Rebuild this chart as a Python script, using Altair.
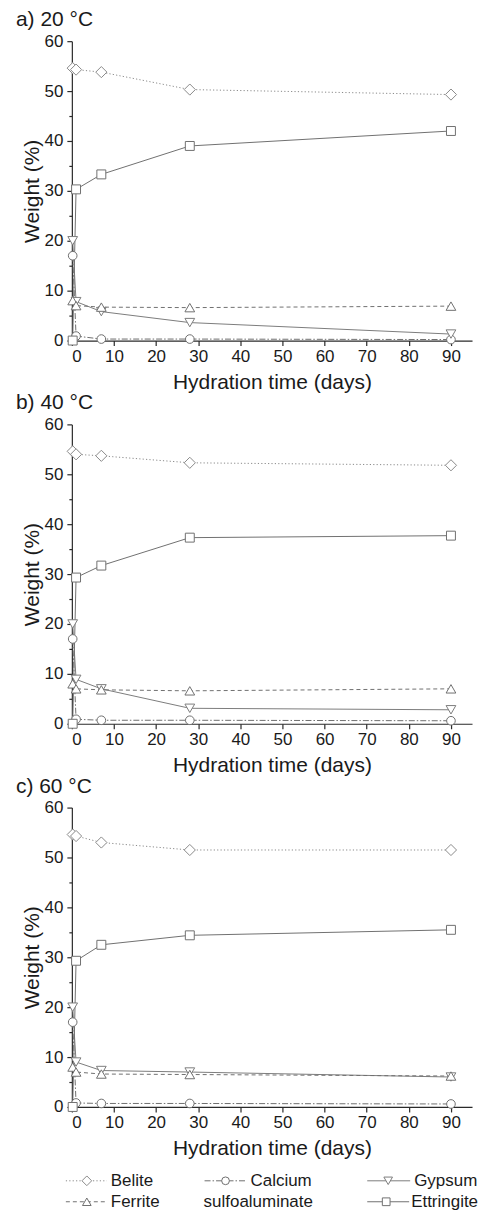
import altair as alt
import pandas as pd

FONT = "Liberation Sans"

# Hydration ages (days); the first age is the fresh paste just after mixing
days = [0.2, 1, 7, 28, 90]

phases = ["Belite", "Calcium sulfoaluminate", "Gypsum", "Ferrite", "Ettringite"]

# Phase content (wt.%) at 20 °C
belite_20 = [54.6, 54.3, 53.8, 50.3, 49.3]
csa_20 = [17.0, 0.9, 0.3, 0.3, 0.2]
gypsum_20 = [20.0, 7.8, 5.8, 3.6, 1.3]
ferrite_20 = [8.0, 7.0, 6.7, 6.6, 6.9]
ettringite_20 = [0.0, 30.3, 33.3, 39.0, 42.0]

# Phase content (wt.%) at 40 °C
belite_40 = [54.6, 54.0, 53.7, 52.3, 51.8]
csa_40 = [17.0, 0.9, 0.7, 0.7, 0.6]
gypsum_40 = [20.0, 8.9, 7.0, 3.1, 2.8]
ferrite_40 = [8.0, 7.0, 6.8, 6.6, 7.0]
ettringite_40 = [0.0, 29.3, 31.7, 37.3, 37.7]

# Phase content (wt.%) at 60 °C
belite_60 = [54.6, 54.3, 53.0, 51.5, 51.5]
csa_60 = [17.0, 0.8, 0.7, 0.7, 0.6]
gypsum_60 = [20.0, 9.0, 7.3, 7.0, 6.0]
ferrite_60 = [8.0, 7.0, 6.6, 6.5, 6.2]
ettringite_60 = [0.0, 29.3, 32.5, 34.4, 35.5]

panel_labels = ["a) 20 °C", "b) 40 °C", "c) 60 °C"]
panel_series = [
    [belite_20, csa_20, gypsum_20, ferrite_20, ettringite_20],
    [belite_40, csa_40, gypsum_40, ferrite_40, ettringite_40],
    [belite_60, csa_60, gypsum_60, ferrite_60, ettringite_60],
]

# Line / marker styling per phase
STYLE = {
    "Belite": dict(shape="diamond", dash=[1.2, 2.2], color="#8a8a8a", size=125, lsize=95),
    "Calcium sulfoaluminate": dict(shape="circle", dash=[6, 2, 1.5, 2], color="#6e6e6e", size=75, lsize=60),
    "Gypsum": dict(shape="triangle-down", dash=None, color="#7c7c7c", size=95, lsize=75),
    "Ferrite": dict(shape="triangle-up", dash=[4, 3], color="#707070", size=95, lsize=75),
    "Ettringite": dict(shape="square", dash=None, color="#707070", size=80, lsize=60),
}

W = 401
H = 300
TITLE_SIZE = 21
LABEL_SIZE = 17


def line_kw(phase):
    s = STYLE[phase]
    kw = dict(color=s["color"], strokeWidth=1)
    if s["dash"]:
        kw["strokeDash"] = s["dash"]
    return kw


def point_kw(phase, size):
    s = STYLE[phase]
    return dict(shape=s["shape"], size=size, filled=True, fill="white",
                stroke=s["color"], strokeWidth=1, opacity=1)


def panel(label, series):
    rows = []
    for phase, vals in zip(phases, series):
        for d, v in zip(days, vals):
            rows.append({"phase": phase, "day": d, "weight": v})
    df = pd.DataFrame(rows)

    x = alt.X(
        "day:Q",
        scale=alt.Scale(domain=[0, 95], nice=False),
        axis=alt.Axis(values=list(range(0, 91, 10)), title="Hydration time (days)",
                      tickSize=5, labelPadding=3, titlePadding=7,
                      titleFontSize=TITLE_SIZE, labelFontSize=LABEL_SIZE),
    )
    y = alt.Y(
        "weight:Q",
        scale=alt.Scale(domain=[0, 60], nice=False),
        axis=alt.Axis(
            values=list(range(0, 61, 5)),
            labelExpr="datum.value % 10 === 0 ? datum.label : ''",
            tickSize={"condition": {"test": "datum.value % 10 === 0", "value": 5}, "value": 3},
            title="Weight (%)", labelPadding=4, titlePadding=2,
            titleFontSize=TITLE_SIZE, labelFontSize=LABEL_SIZE,
        ),
    )
    base = alt.Chart(df).encode(x=x, y=y)
    lines = [
        base.transform_filter(alt.datum.phase == p).mark_line(**line_kw(p))
        for p in phases
    ]
    points = [
        base.transform_filter(alt.datum.phase == p).mark_point(**point_kw(p, STYLE[p]["size"]))
        for p in phases
    ]
    title = alt.Chart(pd.DataFrame({"t": [label]})).mark_text(
        align="left", baseline="middle", font=FONT, fontSize=21, color="#1a1a1a"
    ).encode(x=alt.value(-56), y=alt.value(-21), text="t:N")
    return alt.layer(*lines, *points, title).properties(width=W, height=H)


charts = [panel(l, s) for l, s in zip(panel_labels, panel_series)]

# Legend drawn underneath the panels: sample line, marker and label per phase
legend_phase = ["Belite", "Calcium sulfoaluminate", "Gypsum", "Ferrite", "Ettringite"]
legend_row = [0, 0, 0, 1, 1]
legend_x0 = [-6, 133, 296, -6, 296]
legend_x1 = [35, 175, 339, 35, 338]
legend_xm = [15, 154, 317, 15, 315]
legend_text = ["Belite", "Calcium", "Gypsum", "Ferrite", "sulfoaluminate", "Ettringite"]
legend_text_x = [39, 179, 343, 39, 132, 340]
legend_text_row = [0, 0, 0, 1, 1, 1]

leg_df = pd.DataFrame({"phase": legend_phase, "row": legend_row, "x0": legend_x0,
                       "x1": legend_x1, "xm": legend_xm})
txt_df = pd.DataFrame({"text": legend_text, "xt": legend_text_x, "row": legend_text_row})

lx_scale = alt.Scale(domain=[0, W], range=[0, W])
ly_scale = alt.Scale(domain=[0, 1], range=[-10, 11])

leg_layers = []
for p in legend_phase:
    sub = alt.Chart(leg_df).transform_filter(alt.datum.phase == p)
    leg_layers.append(
        sub.mark_rule(**line_kw(p)).encode(
            x=alt.X("x0:Q", scale=lx_scale, axis=None), x2="x1:Q",
            y=alt.Y("row:Q", scale=ly_scale, axis=None),
        )
    )
    leg_layers.append(
        sub.mark_point(**point_kw(p, STYLE[p]["lsize"])).encode(
            x=alt.X("xm:Q", scale=lx_scale, axis=None),
            y=alt.Y("row:Q", scale=ly_scale, axis=None),
        )
    )
leg_layers.append(
    alt.Chart(txt_df).mark_text(align="left", baseline="middle", font=FONT,
                                fontSize=17, color="#1a1a1a").encode(
        x=alt.X("xt:Q", scale=lx_scale, axis=None),
        y=alt.Y("row:Q", scale=ly_scale, axis=None),
        text="text:N",
    )
)
legend = alt.layer(*leg_layers).properties(width=W, height=20)

chart = (
    alt.vconcat(*charts, legend, spacing=84, bounds="flush")
    .properties(padding={"left": 16, "top": 8, "right": 2, "bottom": 2})
    .configure_view(stroke=None)
    .configure_axis(
        grid=False,
        domainColor="#2a2a2a", domainWidth=1.2,
        tickColor="#2a2a2a", tickWidth=1.2,
        labelColor="#1a1a1a", titleColor="#1a1a1a",
        labelFont=FONT, titleFont=FONT,
        titleFontWeight="normal",
    )
)

chart.save("out.html", embed_options={"renderer": "svg", "actions": False})
